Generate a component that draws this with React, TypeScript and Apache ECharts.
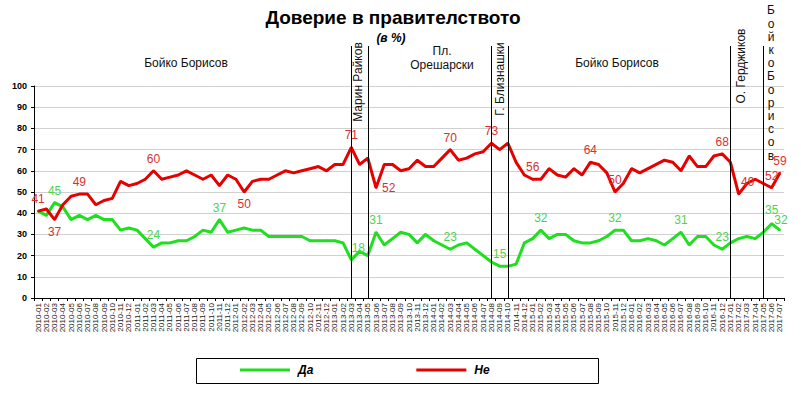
import React, { useEffect, useRef } from 'react';
import * as echarts from 'echarts';

const months: string[] = [];
for (let y = 2010; y <= 2017; y++) {
  for (let m = 1; m <= 12; m++) {
    if (y === 2017 && m > 7) break;
    months.push(`${y}-${String(m).padStart(2, '0')}`);
  }
}

const yesValues = [
  41, 39, 45, 43, 37, 39, 37, 39, 37, 37,
  32, 33, 32, 28, 24, 26, 26, 27, 27, 29,
  32, 31, 37, 31, 32, 33, 32, 32, 29, 29,
  29, 29, 29, 27, 27, 27, 27, 26, 18, 22,
  20, 31, 25, 28, 31, 30, 26, 30, 27, 25,
  23, 25, 26, 23, 20, 17, 15, 15, 16, 26,
  28, 32, 28, 30, 30, 27, 26, 26, 27, 29,
  32, 32, 27, 27, 28, 27, 25, 28, 31, 25,
  29, 29, 25, 23, 26, 28, 29, 28, 31, 35, 32,
];

const noValues = [
  41, 42, 37, 44, 48, 49, 49, 44, 46, 47,
  55, 53, 54, 56, 60, 56, 57, 58, 60, 58,
  56, 58, 53, 58, 56, 50, 55, 56, 56, 58,
  60, 59, 60, 61, 62, 60, 63, 63, 71, 63,
  66, 52, 63, 63, 60, 61, 65, 62, 62, 66,
  70, 65, 66, 68, 69, 73, 70, 73, 64, 58,
  56, 56, 61, 58, 57, 61, 58, 64, 63, 59,
  50, 54, 61, 59, 61, 63, 65, 64, 60, 67,
  62, 62, 67, 68, 64, 49, 54, 56, 54, 52, 59,
];

const yesLabelIdx = [2, 14, 22, 38, 41, 50, 56, 61, 70, 78, 83, 89, 90];
const noLabelIdx = [0, 2, 5, 14, 25, 38, 41, 50, 55, 60, 67, 70, 83, 85, 89, 90];
const noLabelPos: Record<number, string> = { 2: 'bottom', 25: 'bottom', 41: 'right' };
const yesLabelOffset: Record<number, number[]> = { 38: [7, 0], 89: [0, -2], 90: [1, 2] };
const noLabelOffset: Record<number, number[]> = { 85: [9, 0] };

const govChanges = ['2013-03', '2013-05', '2014-08', '2014-10', '2017-01', '2017-05'];

const FONT = 'Arial, "Liberation Sans", sans-serif';
const RED = '#e60000';
const GREEN = '#1ee01e';
const RED_LABEL = '#d83030';
const GREEN_LABEL = '#4cd44c';

export default function App() {
  const ref = useRef<HTMLDivElement>(null);
  useEffect(() => {
    if (!ref.current) return;
    const chart = echarts.init(ref.current, undefined, { renderer: 'svg' });
    const mk = (
      vals: number[],
      idx: number[],
      pos: Record<number, string>,
      off: Record<number, number[]>,
      color: string
    ) =>
      vals.map((v, i) =>
        idx.includes(i)
          ? {
              value: v,
              label: {
                show: true,
                position: pos[i] || 'top',
                offset: off[i] || [0, 0],
                color,
                fontSize: 12,
                fontFamily: FONT,
                distance: 5,
              },
            }
          : v
      );
    chart.setOption({
      animation: false,
      backgroundColor: '#fff',
      textStyle: { fontFamily: FONT },
      grid: { left: 34, right: 17, top: 86, bottom: 95, containLabel: false },
      legend: {
        left: 240,
        top: 364,
        padding: 0,
        icon: 'rect',
        itemWidth: 50,
        itemHeight: 3,
        itemGap: 103,
        textStyle: { fontSize: 12, fontWeight: 'bold', fontStyle: 'italic', color: '#000', fontFamily: FONT, padding: [0, 0, 0, 3] },
        data: ['Да', 'Не'],
      },
      xAxis: {
        type: 'category',
        data: months,
        boundaryGap: true,
        axisLine: { lineStyle: { color: '#000', width: 1 } },
        axisTick: { show: true, interval: 0, length: 3, lineStyle: { color: '#000' } },
        axisLabel: { interval: 0, rotate: 90, fontSize: 8, color: '#222', margin: 5, fontFamily: FONT },
        splitLine: { show: false },
      },
      yAxis: {
        type: 'value',
        min: 0,
        max: 100,
        interval: 10,
        axisLine: { show: true, lineStyle: { color: '#000', width: 1 } },
        axisTick: { show: true, length: 3, lineStyle: { color: '#000' } },
        axisLabel: { fontSize: 9, fontWeight: 'bold', color: '#000', margin: 7, fontFamily: FONT },
        splitLine: { show: true, lineStyle: { color: '#d0d0d0', width: 1 } },
      },
      series: [
        {
          name: 'Да',
          type: 'line',
          data: mk(yesValues, yesLabelIdx, {}, yesLabelOffset, GREEN_LABEL),
          symbol: 'circle',
          symbolSize: 2,
          showSymbol: true,
          itemStyle: { color: GREEN },
          lineStyle: { color: GREEN, width: 3 },
          label: { show: false },
          z: 3,
        },
        {
          name: 'Не',
          type: 'line',
          data: mk(noValues, noLabelIdx, noLabelPos, noLabelOffset, RED_LABEL),
          symbol: 'circle',
          symbolSize: 2,
          showSymbol: true,
          itemStyle: { color: RED },
          lineStyle: { color: RED, width: 3 },
          label: { show: false },
          z: 4,
        },
      ],
    });

    const yBottom = chart.convertToPixel({ yAxisIndex: 0 }, 0) as number;
    const lines = govChanges.map((c) => {
      const x = Math.round(chart.convertToPixel({ xAxisIndex: 0 }, c) as number) + 0.5;
      return {
        type: 'line',
        shape: { x1: x, y1: 46, x2: x, y2: yBottom },
        style: { stroke: '#000', lineWidth: 1 },
        z: 10,
      };
    });
    const txt = (text: string, x: number, y: number, extra: any = {}) => ({
      type: 'text',
      x,
      y,
      z: 11,
      style: {
        text,
        fill: '#111',
        font: `12px ${FONT}`,
        textAlign: 'center',
        textVerticalAlign: 'middle',
        ...extra.style,
      },
      ...(extra.rotation !== undefined ? { rotation: extra.rotation } : {}),
    });
    chart.setOption({
      graphic: [
        ...lines,
        {
          type: 'text',
          x: 393,
          y: 17,
          style: { text: 'Доверие в правителството', font: `bold 19px ${FONT}`, fill: '#000', textAlign: 'center', textVerticalAlign: 'middle' },
        },
        {
          type: 'text',
          x: 391,
          y: 38,
          style: { text: '(в %)', font: `italic bold 12px ${FONT}`, fill: '#000', textAlign: 'center', textVerticalAlign: 'middle' },
        },
        txt('Бойко Борисов', 186, 63),
        txt('Марин Райков', 358, 82, { rotation: Math.PI / 2 }),
        txt('Пл.\nОрешарски', 442, 58, { style: { lineHeight: 14 } }),
        txt('Г. Близнашки', 500, 79, { rotation: Math.PI / 2 }),
        txt('Бойко Борисов', 617, 63),
        txt('О. Герджиков', 741, 66, { rotation: Math.PI / 2 }),
        txt('БойкоБорисов'.split('').join('\n'), 771, 83, { style: { lineHeight: 13.2 } }),
        {
          type: 'rect',
          shape: { x: 196.5, y: 358.5, width: 402, height: 25 },
          style: { fill: 'none', stroke: '#000', lineWidth: 1 },
        },
      ],
    });
    return () => chart.dispose();
  }, []);
  return <div ref={ref} style={{ position: 'fixed', left: 0, top: 0, width: 801, height: 393, background: '#fff' }} />;
}
